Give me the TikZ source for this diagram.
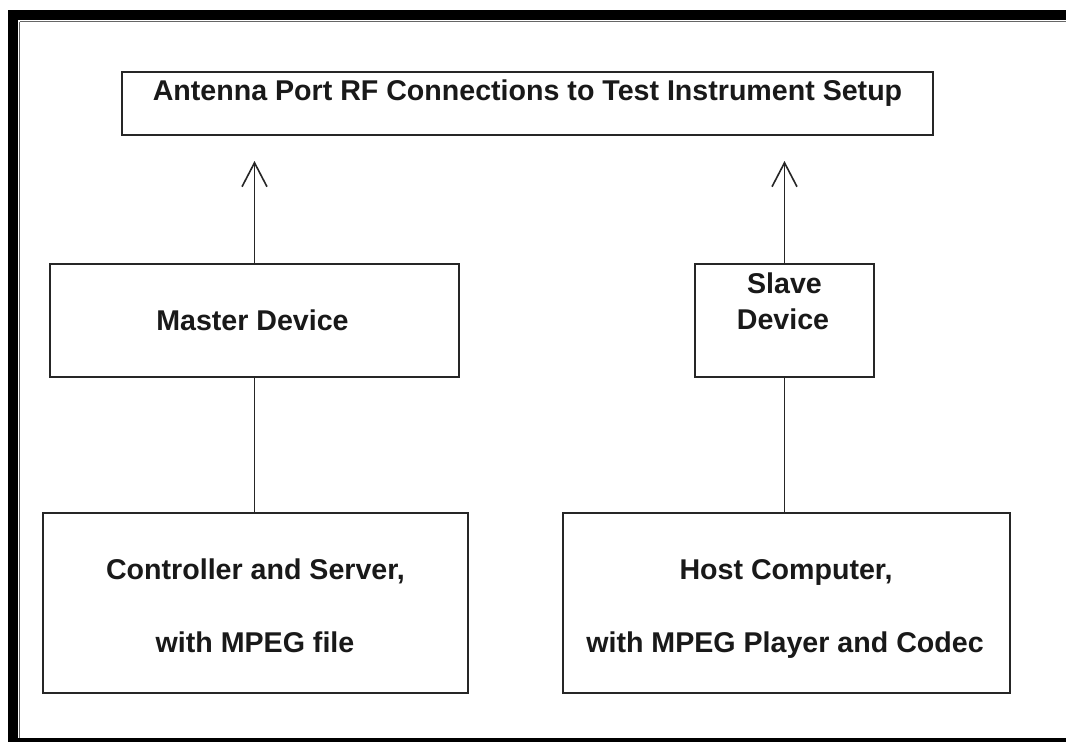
\documentclass[tikz,border=0pt]{standalone}
\usepackage{fontspec}
\setmainfont{Liberation Sans}
\usetikzlibrary{arrows.meta}
\begin{document}
\begin{tikzpicture}[x=1pt,y=-1pt,
  box/.style={draw=black!85,line width=1.6pt,rectangle,inner sep=0pt,fill=white},
  lbl/.style={anchor=base,inner sep=0pt,font=\fontsize{28.6}{34}\selectfont\bfseries,text=black!90},
  conn/.style={draw=black!85,line width=1.6pt},
  arr/.style={conn,-{Straight Barb[length=24pt,width=25pt,line width=1.6pt]}}]
\useasboundingbox (0,0) rectangle (1066,742);
% frame
\fill[black] (8,10) rectangle (1066,19.5);
\fill[black] (8,10) rectangle (18,742);
\fill[black] (18,738) rectangle (1066,742);
\draw[black!60,line width=1.2pt] (20,21.5) -- (1066,21.5);
\draw[black!60,line width=1.2pt] (19.5,21.5) -- (19.5,738);
% boxes
\node[box,minimum width=811pt,minimum height=63pt] (top) at (527.5,103.5) {};
\node[box,minimum width=409pt,minimum height=113pt] (master) at (254.5,320.5) {};
\node[box,minimum width=179pt,minimum height=113pt] (slave) at (784.5,320.5) {};
\node[box,minimum width=425pt,minimum height=180pt] (ctrl) at (255.5,603) {};
\node[box,minimum width=447pt,minimum height=180pt] (host) at (786.5,603) {};
% labels
\node[lbl] (toptxt) at (527.5,100) {Antenna Port RF Connections to Test Instrument Setup};
\node[lbl] (mastertxt) at (252.5,330) {Master Device};
\node[lbl] (slavetxtA) at (784.5,293) {Slave};
\node[lbl] (slavetxtB) at (783,329) {Device};
\node[lbl] (ctrltxtA) at (255.5,579) {Controller and Server,};
\node[lbl] (ctrltxtB) at (255,652) {with MPEG file};
\node[lbl] (hosttxtA) at (786,579) {Host Computer,};
\node[lbl] (hosttxtB) at (785,652) {with MPEG Player and Codec};
% connectors
\coordinate (tipL) at (254.5,161);
\coordinate (tipR) at (784.5,161);
\draw[arr] (master.north) -- (tipL);
\draw[arr] (slave.north) -- (tipR);
\draw[conn] (master.south) -- (master.south |- ctrl.north);
\draw[conn] (slave.south) -- (slave.south |- host.north);
\end{tikzpicture}
\end{document}
